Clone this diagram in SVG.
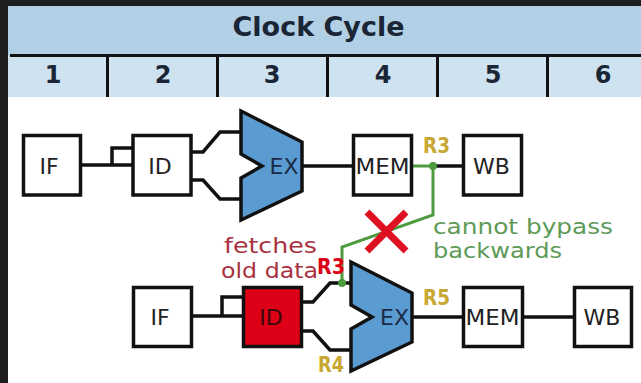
<svg xmlns="http://www.w3.org/2000/svg" width="641" height="383" viewBox="0 0 641 383">
<style>
.box{fill:#ffffff;stroke:#111;stroke-width:3.5}
.ex{fill:#5a9bd2;stroke:#111;stroke-width:3.5;stroke-linejoin:miter}
.lbl{font-family:"DejaVu Sans",sans-serif;font-size:22px;fill:#222;text-anchor:middle}
.exl{font-family:"DejaVu Sans",sans-serif;font-size:22px;fill:#1c2c48;text-anchor:middle}
.wire{fill:none;stroke:#111;stroke-width:3.5}
.grn{fill:none;stroke:#4e9a3e;stroke-width:3}
.reg{font-family:"DejaVu Sans",sans-serif;font-size:21px;font-weight:bold;fill:#c8a832}
.num{font-family:"DejaVu Sans",sans-serif;font-size:24px;font-weight:bold;fill:#1a2535;text-anchor:middle}
.note{font-family:"DejaVu Sans",sans-serif;font-size:21px}
</style>
<rect x="0" y="0" width="641" height="383" fill="#ffffff"/>
<rect x="0" y="0" width="641" height="6" fill="#1e1e1e"/>
<rect x="0" y="0" width="8" height="383" fill="#1e1e1e"/>
<g id="header">
<rect x="8" y="6" width="633" height="50" fill="#b2d0e5"/>
<rect x="8" y="56" width="633" height="41" fill="#cfe2f0"/>
<line x1="10" y1="55.5" x2="641" y2="55.5" stroke="#111" stroke-width="3"/>
<g stroke="#111" stroke-width="3">
<line x1="107.5" y1="57" x2="107.5" y2="97"/>
<line x1="217.5" y1="57" x2="217.5" y2="97"/>
<line x1="327.5" y1="57" x2="327.5" y2="97"/>
<line x1="437.5" y1="57" x2="437.5" y2="97"/>
<line x1="547.5" y1="57" x2="547.5" y2="97"/>
</g>
<text x="318.5" y="36" font-family="DejaVu Sans, sans-serif" font-size="27" font-weight="bold" fill="#1a2535" text-anchor="middle">Clock Cycle</text>
<text class="num" x="53" y="83">1</text>
<text class="num" x="163" y="83">2</text>
<text class="num" x="272" y="83">3</text>
<text class="num" x="383" y="83">4</text>
<text class="num" x="493" y="83">5</text>
<text class="num" x="603" y="83">6</text>
</g>
<g id="connectors">
<path class="wire" d="M81 165H133M112 165V148H133"/>
<path class="wire" d="M191 152H203L220 132H241M191 180H203L220 199H241"/>
<path class="wire" d="M302 166H353.5"/>
<path class="wire" d="M433 166H463.5"/>
<path class="wire" d="M191 316H243M222 316V297H243"/>
<path class="wire" d="M301 302H313L330 283H351M301 331H313L330 350H351"/>
<path class="wire" d="M412 317H463.5M522 317H574.5"/>
<path class="grn" d="M411.5 166H433V215L342 247V283"/>
<circle cx="433" cy="166" r="4" fill="#4e9a3e"/>
<circle cx="342" cy="283" r="4" fill="#4e9a3e"/>
</g>
<g id="if1"><rect class="box" x="23.5" y="135.5" width="57" height="59.5"/><text class="lbl" x="49" y="174">IF</text></g>
<g id="id1"><rect class="box" x="133" y="135.5" width="58" height="59.5"/><text class="lbl" x="160" y="174">ID</text></g>
<g id="ex1"><polygon class="ex" points="241,111 302,142 302,191 241,220 241,178 262,166 241,154"/><text class="exl" x="284" y="174">EX</text></g>
<g id="mem1"><rect class="box" x="353.5" y="135.5" width="58" height="59.5"/><text class="lbl" x="382.5" y="174" textLength="54" lengthAdjust="spacingAndGlyphs">MEM</text></g>
<g id="wb1"><rect class="box" x="463.5" y="135.5" width="58" height="59.5"/><text class="lbl" x="491.5" y="174">WB</text></g>
<g id="if2"><rect class="box" x="133.5" y="287.5" width="58" height="59"/><text class="lbl" x="160" y="325">IF</text></g>
<g id="id2"><rect x="243.5" y="287.5" width="58" height="59" fill="#dd0016" stroke="#111" stroke-width="3.5"/><text class="lbl" x="271" y="325" style="fill:#3a0808">ID</text></g>
<g id="ex2"><polygon class="ex" points="351,262 412,293 412,342 351,371 351,329 372,317 351,305"/><text class="exl" x="394.5" y="325">EX</text></g>
<g id="mem2"><rect class="box" x="463.5" y="287.5" width="59" height="59"/><text class="lbl" x="492.5" y="325" textLength="54" lengthAdjust="spacingAndGlyphs">MEM</text></g>
<g id="wb2"><rect class="box" x="574.5" y="287.5" width="57" height="59"/><text class="lbl" x="602" y="325">WB</text></g>
<g id="cross">
<path d="M367 212L406 251M406 212L367 251" stroke="#dd1122" stroke-width="7" fill="none"/>
</g>
<g id="labels">
<text class="reg" x="423" y="153" textLength="27" lengthAdjust="spacingAndGlyphs">R3</text>
<text class="reg" x="423" y="305" textLength="27" lengthAdjust="spacingAndGlyphs">R5</text>
<text class="reg" x="318" y="372" textLength="26" lengthAdjust="spacingAndGlyphs">R4</text>
<text class="reg" x="317" y="274" textLength="28" lengthAdjust="spacingAndGlyphs" style="fill:#dd0016">R3</text>
<text class="note" x="224" y="253" fill="#a8323f" textLength="93" lengthAdjust="spacingAndGlyphs">fetches</text>
<text class="note" x="221" y="278" fill="#a8323f" textLength="97" lengthAdjust="spacingAndGlyphs">old data</text>
<text class="note" x="433" y="234" fill="#5e9a58" textLength="180" lengthAdjust="spacingAndGlyphs">cannot bypass</text>
<text class="note" x="433" y="258" fill="#5e9a58" textLength="129" lengthAdjust="spacingAndGlyphs">backwards</text>
</g>
</svg>
